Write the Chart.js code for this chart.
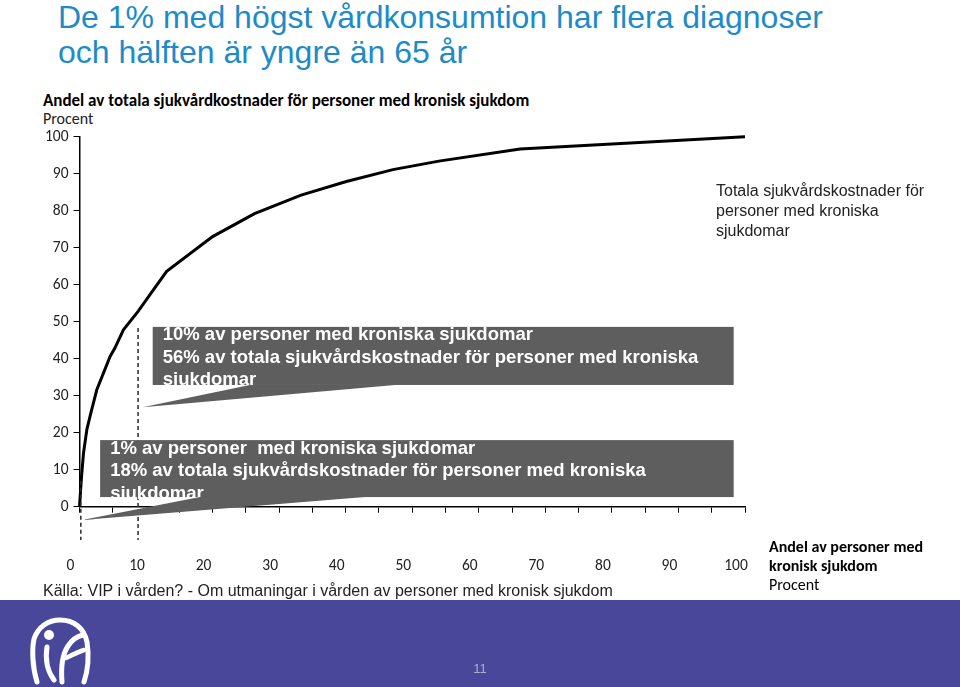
<!DOCTYPE html>
<html lang="sv">
<head>
<meta charset="utf-8">
<script src="https://cdn.jsdelivr.net/npm/chart.js@4.4.1/dist/chart.umd.min.js"></script>
<style>
    html, body { margin: 0; padding: 0; width: 960px; height: 687px; overflow: hidden; background: #fff; }
    body { position: relative; font-family: 'Liberation Sans', Arial, sans-serif; color: #1a1a1a; }
    #chart { position: absolute; left: 0; top: 0; }
    .txt { position: absolute; white-space: nowrap; }
    #title { left: 58px; top: 0; font-size: 32px; line-height: 35px; color: #1d8bc9; }
    #subtitle { left: 43px; top: 92px; font: bold 17px Carlito, Lato, 'Open Sans', sans-serif; line-height: 18px; color: #000; }
    #unit { left: 43px; top: 110px; font: 16px Carlito, Lato, 'Open Sans', sans-serif; line-height: 18px; color: #222; }
    #series-label { left: 716px; top: 181px; font-size: 16px; line-height: 20px; color: #222; }
    #x-title { left: 769px; top: 537px; font: 16px Carlito, Lato, 'Open Sans', sans-serif; line-height: 19px; color: #000; }
    #x-title b { font-weight: bold; }
    #source { left: 43px; top: 582px; font-size: 16px; line-height: 18px; color: #222; }
    #footer { position: absolute; left: 0; top: 600px; width: 960px; height: 87px; background: #48479a; }
    #page { position: absolute; left: 0; width: 960px; top: 661px; text-align: center; font-size: 13px; color: #aeadd6; }
    #logo { position: absolute; left: 20px; top: 600px; }
</style>
</head>
<body>
<div id="title" class="txt">De 1% med högst vårdkonsumtion har flera diagnoser<br>och hälften är yngre än 65 år</div>
<div id="subtitle" class="txt">Andel av totala sjukvårdkostnader för personer med kronisk sjukdom</div>
<div id="unit" class="txt">Procent</div>
<canvas id="chart" width="960" height="600"></canvas>
<div id="series-label" class="txt">Totala sjukvårdskostnader för<br>personer med kroniska<br>sjukdomar</div>
<div id="x-title" class="txt"><b>Andel av personer med<br>kronisk sjukdom</b><br>Procent</div>
<div id="source" class="txt">Källa: VIP i vården? - Om utmaningar i vården av personer med kronisk sjukdom</div>
<div id="footer"></div>
<svg id="logo" width="90" height="87" viewBox="0 0 90 87">
    <path d="M17 82 C12 66 12 48 14 39 C18 27 28 20 40 20 C54 20 64 28 67 42 C69 55 68 70 64 82" fill="none" stroke="#fff" stroke-width="5" stroke-linecap="round"/>
    <circle cx="29" cy="35" r="5" fill="#fff"/>
    <path d="M27 47 C25 60 28 72 34 80" fill="none" stroke="#fff" stroke-width="5" stroke-linecap="round"/>
    <path d="M42 82 C41 70 42 55 48 46 C52 40 58 36 63 35" fill="none" stroke="#fff" stroke-width="5" stroke-linecap="round"/>
    <path d="M46 58 C52 55 58 52 64 50" fill="none" stroke="#fff" stroke-width="4.5" stroke-linecap="round"/>
</svg>
<div id="page" class="txt">11</div>

<script>
// cumulative share of persons (x) vs share of total costs (y), in percent
const personShare = [0, 0.3, 0.6, 1.1, 1.7, 2.6, 4.6, 5.3, 6.6, 8.8, 11.1, 13.1, 20, 26.3, 33.3, 40.1, 47.1, 54, 66.2, 100];
const costShare   = [0, 8, 14.5, 20.8, 25.3, 31.6, 40.6, 42.8, 47.8, 52.8, 58.6, 63.6, 73, 79.2, 84.2, 87.9, 91.1, 93.4, 96.7, 100];

const xTickValues = [0, 10, 20, 30, 40, 50, 60, 70, 80, 90, 100];
const yTickValues = [0, 10, 20, 30, 40, 50, 60, 70, 80, 90, 100];

// dashed markers: x position, top and bottom (data units)
const guideX      = [0.2, 8.8];
const guideTop    = [7, 48.3];
const guideBottom = [-9, -9];

const calloutTexts = [
    ['10% av personer med kroniska sjukdomar',
     '56% av totala sjukvårdskostnader för personer med kroniska',
     'sjukdomar'],
    ['1% av personer  med kroniska sjukdomar',
     '18% av totala sjukvårdskostnader för personer med kroniska',
     'sjukdomar'],
];

// callout geometry in data units: box [x1, x2, yTop, yBottom], tip [x, y], wedge base [x1, x2]
const CALLOUTS = [
    { box: [11, 98.3, 48.6, 32.9], tip: [9.5, 26.9], base: [25.6, 47.4] },
    { box: [3.1, 98.3, 18, 2.6],   tip: [0.4, -3.6], base: [18.1, 42.9] },
];

const BOX_COLOR  = '#5e5e5e';
const TICK_FONT  = { family: "Carlito, Lato, 'Open Sans', sans-serif", size: 15.5 };

const calloutPlugin = {
    id: 'callouts',
    afterDatasetsDraw(chart) {
        const { ctx } = chart;
        const sx = chart.scales.x, sy = chart.scales.y;
        const px = v => sx.getPixelForValue(v);
        const py = v => sy.getPixelForValue(v);

        ctx.save();
        ctx.strokeStyle = '#2a2a2a';
        ctx.lineWidth   = 1.5;
        ctx.setLineDash([4, 3]);
        guideX.forEach((gx, i) => {
            ctx.beginPath();
            ctx.moveTo(px(gx), py(guideTop[i]));
            ctx.lineTo(px(gx), py(guideBottom[i]));
            ctx.stroke();
        });
        ctx.setLineDash([]);

        CALLOUTS.forEach((c, i) => {
            const [x1, x2, yt, yb] = c.box;
            const left = px(x1), top = py(yt);
            const w = px(x2) - left, h = py(yb) - top;

            ctx.fillStyle = BOX_COLOR;
            ctx.fillRect(left, top, w, h);

            ctx.fillStyle    = '#fff';
            ctx.font         = "bold 18.5px 'Liberation Sans', Arial, sans-serif";
            ctx.textBaseline = 'middle';
            ctx.textAlign    = 'left';
            calloutTexts[i].forEach((line, j) => {
                ctx.fillText(line, left + 10, top + 8.5 + j * 22.5);
            });

            ctx.fillStyle = BOX_COLOR;
            ctx.beginPath();
            ctx.moveTo(px(c.tip[0]), py(c.tip[1]));
            ctx.lineTo(px(c.base[0]), top + h);
            ctx.lineTo(px(c.base[1]), top + h);
            ctx.closePath();
            ctx.fill();
        });
        ctx.restore();
    },
};

function init() {
    const ctx = document.getElementById('chart').getContext('2d');

    new Chart(ctx, {
        type : 'scatter',
        data : {
            datasets : [{
                data        : personShare.map((x, i) => ({ x, y: costShare[i] })),
                showLine    : true,
                borderColor : '#000',
                borderWidth : 3,
                pointRadius : 0,
                tension     : 0,
                clip        : 6,
            }],
        },
        options : {
            responsive : false,
            animation  : false,
            layout     : { padding: { left: 20, right: 215, top: 136.7, bottom: 23.3 } },
            plugins    : {
                legend  : { display: false },
                tooltip : { enabled: false },
            },
            scales : {
                x : {
                    type    : 'linear',
                    min     : 0,
                    max     : 100,
                    afterFit: (s) => { s.height = 70; },
                    afterBuildTicks: (s) => {
                        s.ticks = [];
                        for (let v = 0; v <= 100; v += 5) s.ticks.push({ value: v });
                    },
                    ticks : {
                        autoSkip    : false,
                        maxRotation : 0,
                        padding     : 44,
                        labelOffset : -9,
                        color       : '#222',
                        font        : TICK_FONT,
                        callback    : (v) => xTickValues.includes(v) ? String(v) : '',
                    },
                    grid   : { drawOnChartArea: false, tickLength: 6, color: '#000', lineWidth: 1 },
                    border : { color: '#000', width: 1.5 },
                },
                y : {
                    min     : 0,
                    max     : 100,
                    afterFit: (s) => { s.width = 59.5; },
                    afterBuildTicks: (s) => { s.ticks = yTickValues.map(v => ({ value: v })); },
                    ticks : {
                        padding : 5,
                        color   : '#222',
                        font    : TICK_FONT,
                    },
                    grid   : { drawOnChartArea: false, tickLength: 6, color: '#000', lineWidth: 1 },
                    border : { color: '#000', width: 1.5 },
                },
            },
        },
        plugins : [calloutPlugin],
    });
}

document.addEventListener('DOMContentLoaded', init);
</script>
</body>
</html>
